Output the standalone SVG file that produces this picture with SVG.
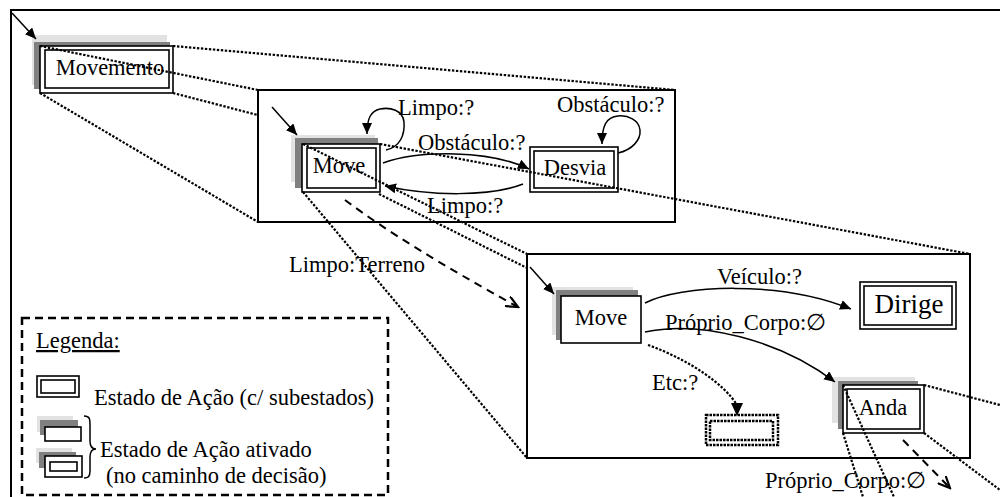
<svg xmlns="http://www.w3.org/2000/svg" width="1000" height="497" viewBox="0 0 1000 497">
<style>
.t{font-family:"Liberation Serif","DejaVu Serif",serif;font-size:22.5px;fill:#000}
.m{text-anchor:middle}
.frame{fill:none;stroke:#000;stroke-width:2}
.box{fill:#fff;stroke:#000;stroke-width:2}
.b{fill:#fff;stroke:#000;stroke-width:1.6}
.bi{fill:none;stroke:#000;stroke-width:1.6}
.lg{fill:#e2e2e2;stroke:none}
.dg{fill:#808080;stroke:none}
.zl{fill:none;stroke:#000;stroke-width:2.2;stroke-dasharray:2.4 1.6}
.ar{fill:none;stroke:#000;stroke-width:1.5;marker-end:url(#ah)}
.dash{fill:none;stroke:#000;stroke-width:2;stroke-dasharray:8 6}
.dot{fill:none;stroke:#000;stroke-width:2.5;stroke-dasharray:2.5 1}
</style>
<defs>
<marker id="ah" markerUnits="userSpaceOnUse" markerWidth="12" markerHeight="10" refX="11" refY="5" orient="auto"><path d="M0,0 L11,5 L0,10 z" fill="#000"/></marker>
<marker id="oh" markerUnits="userSpaceOnUse" markerWidth="14" markerHeight="12" refX="12" refY="6" orient="auto"><path d="M0,0.5 L12,6 L0,11.5" fill="none" stroke="#000" stroke-width="2.2"/></marker>
</defs>

<!-- outer frame -->
<path class="frame" d="M11,497 L11,10 L1000,10"/>

<g id="node-movemento">
<rect class="lg" x="32" y="35" width="135" height="50"/>
<rect class="dg" x="34" y="42" width="136" height="47"/>
<rect class="b" x="40" y="46" width="133" height="47"/>
<rect class="bi" x="45" y="50" width="124" height="38"/>
<text class="t m" x="110" y="75">Movemento</text>
</g>

<g id="connectors-level1">
<path class="zl" d="M173,46 L675,90"/>
<path class="zl" d="M40,46 L258,90"/>
<path class="zl" d="M173,93 L300,126"/>
<path class="zl" d="M40,93 L258,222"/>
<path class="ar" d="M12,13 L36,39"/>
</g>

<g id="frame-movemento">
<rect class="box" x="258" y="90" width="417" height="132"/>
</g>

<g id="node-move1">
<rect class="lg" x="291" y="135" width="84" height="47"/>
<rect class="dg" x="295" y="138" width="83" height="50"/>
<rect class="b" x="302" y="144" width="78" height="48"/>
<rect class="bi" x="307" y="148" width="69" height="40"/>
<text class="t m" x="339" y="173">Move</text>
</g>

<g id="node-desvia">
<rect class="b" x="530" y="147" width="88" height="45"/>
<rect class="bi" x="534" y="151" width="80" height="37"/>
<text class="t m" x="575" y="175">Desvia</text>
</g>

<g id="connectors-level2">
<path class="ar" d="M272,107 L297,135"/>
<path class="ar" d="M386,150 C400,147 405,135 404,122 C403,110 390,107 380,109 C371,111 367,118 367,134"/>
<path class="ar" d="M618,153 C632,150 641,140 640,130 C639,120 628,115 618,116 C606,117 602,126 602,144"/>
<path class="ar" d="M383,163 C420,150 490,150 529,169"/>
<path class="ar" d="M523,184 C490,197 430,196 385,186"/>
<text class="t" x="398" y="115">Limpo:?</text>
<text class="t" x="557" y="112">Obstáculo:?</text>
<text class="t" x="418" y="150">Obstáculo:?</text>
<text class="t" x="427" y="213">Limpo:?</text>
</g>

<g id="connectors-zoom2">
<path class="zl" d="M303,144 L527,254"/>
<path class="zl" d="M380,144 L970,254"/>
<path class="zl" d="M303,192 L527,458"/>
<path class="zl" d="M379,194 L527,268"/>
<path class="dash" d="M345,200 Q405,245 518,307" marker-end="url(#oh)"/>
<text class="t" x="289" y="272">Limpo:Terreno</text>
</g>

<g id="frame-move">
<rect class="box" x="527" y="254" width="443" height="204"/>
</g>

<g id="node-move2">
<rect class="lg" x="552" y="287" width="81" height="48"/>
<rect class="dg" x="556" y="290" width="82" height="50"/>
<rect class="b" x="561" y="296" width="80" height="47"/>
<text class="t m" x="601" y="325">Move</text>
</g>

<g id="node-dirige">
<rect class="b" x="860" y="282" width="96" height="47"/>
<rect class="bi" x="864" y="286" width="88" height="39"/>
<text class="t m" x="909" y="313" style="font-size:27px">Dirige</text>
</g>

<g id="node-anda">
<rect class="lg" x="832" y="377" width="83" height="46"/>
<rect class="dg" x="838" y="381" width="80" height="48"/>
<rect class="b" x="843" y="385" width="81" height="48"/>
<rect class="bi" x="847" y="389" width="73" height="40"/>
<text class="t m" x="883" y="415">Anda</text>
</g>

<g id="node-etc">
<rect class="dot" x="706" y="415" width="72" height="30"/>
<rect class="dot" x="710" y="421" width="63" height="19"/>
</g>

<g id="connectors-level3">
<path class="ar" d="M530,267 L554,294"/>
<path class="ar" d="M645,303 C680,285 780,280 851,309"/>
<path class="ar" d="M645,332 C700,320 780,340 835,382"/>
<path class="zl" d="M648,345 C690,360 725,385 737,405"/>
<path d="M731,403 L743,403 L737,416 z" fill="#000"/>
<text class="t" x="717" y="284">Veículo:?</text>
<text class="t" x="665" y="330">Próprio_Corpo:∅</text>
<text class="t" x="652" y="390">Etc:?</text>
</g>

<g id="connectors-zoom3">
<path class="zl" d="M843,385 L894,497"/>
<path class="zl" d="M843,433 L863,497"/>
<path class="zl" d="M924,385 L1000,405"/>
<path class="zl" d="M924,433 L1000,490"/>
<path class="dash" d="M903,440 L950,488" marker-end="url(#oh)"/>
<text class="t" x="765" y="488">Próprio_Corpo:∅</text>
</g>

<g id="legend">
<rect x="22" y="318" width="366" height="177" fill="none" stroke="#000" stroke-width="2.5" stroke-dasharray="8 5"/>
<text class="t" x="36" y="348" text-decoration="underline">Legenda:</text>
<rect class="b" x="37" y="376" width="42" height="21"/>
<rect class="bi" x="41" y="380" width="34" height="13"/>
<text class="t" x="94" y="405">Estado de Ação (c/ subestados)</text>
<rect class="lg" x="37" y="416" width="36" height="16"/>
<rect class="dg" x="40" y="420" width="38" height="15"/>
<rect class="b" x="45" y="427" width="36" height="14"/>
<rect class="lg" x="36" y="448" width="36" height="15"/>
<rect class="dg" x="39" y="452" width="37" height="16"/>
<rect class="b" x="45" y="456" width="37" height="21"/>
<rect class="bi" x="50" y="462" width="27" height="9"/>
<path d="M84,416 C90,416 90,419 90,426 L90,441 C90,447 92,449 96,449 C92,449 90,451 90,457 L90,471 C90,477 88,478 84,478" fill="none" stroke="#000" stroke-width="1.5"/>
<text class="t" x="100" y="457">Estado de Ação ativado</text>
<text class="t" x="106" y="483">(no caminho de decisão)</text>
</g>
</svg>
